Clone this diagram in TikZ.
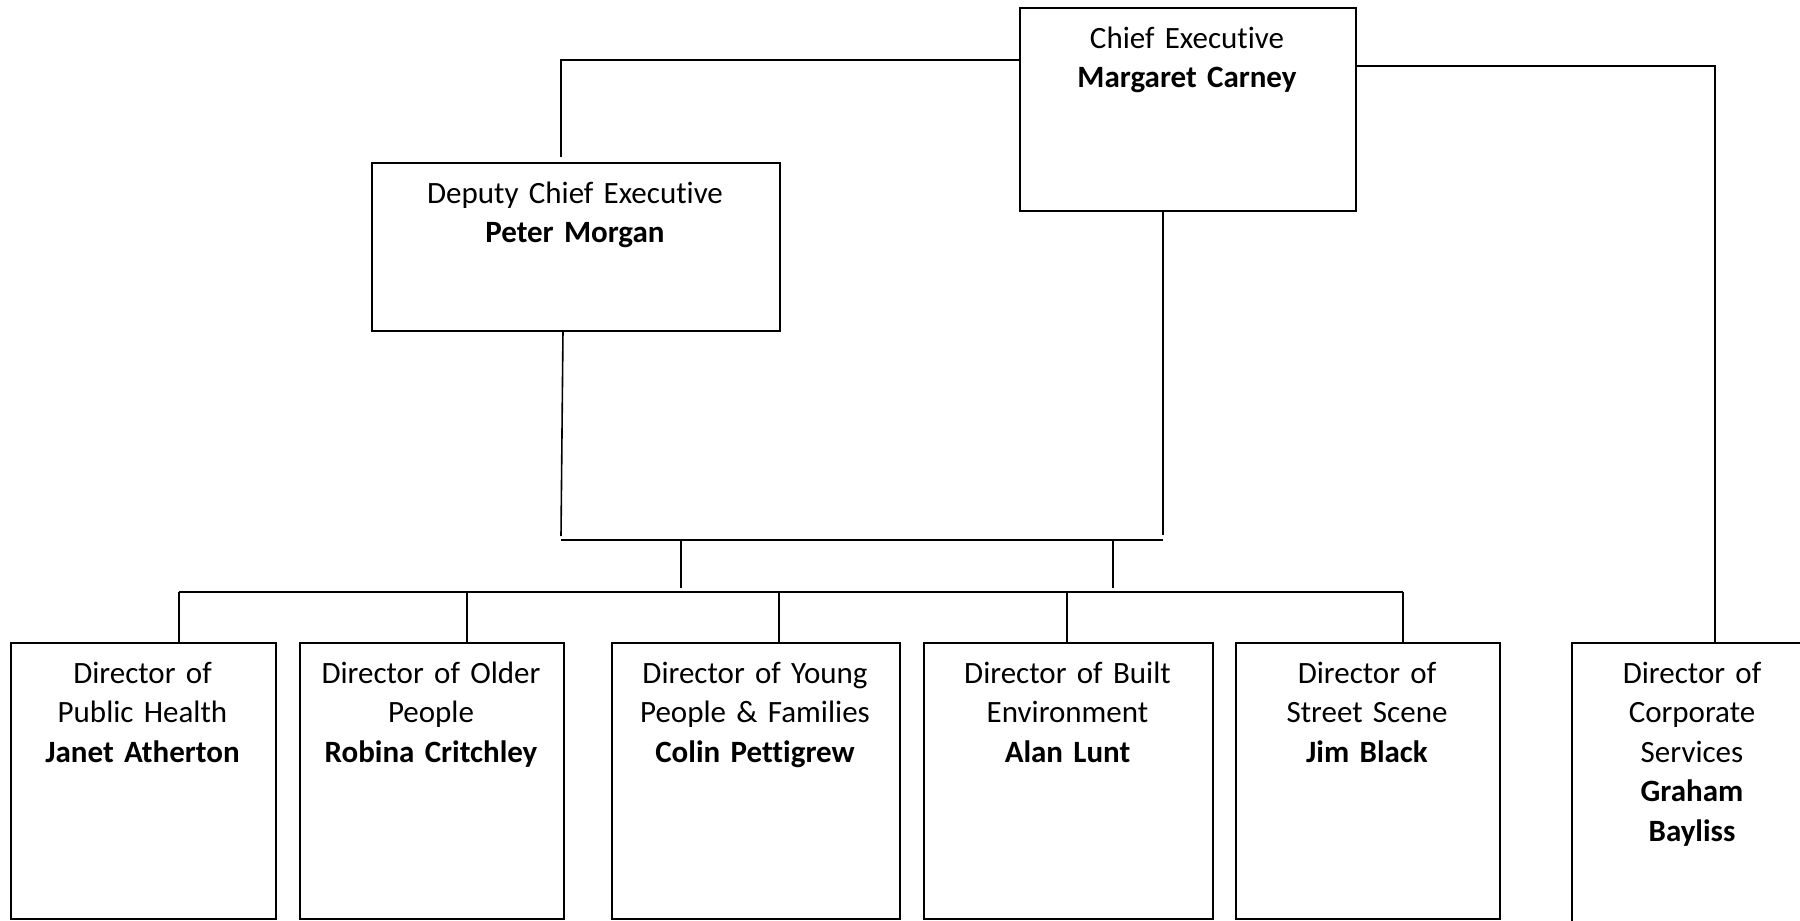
\documentclass[tikz,border=0pt]{standalone}
\usepackage{fontspec}
\setmainfont{Carlito}[Ligatures=NoCommon]
\begin{document}
\begin{tikzpicture}[x=0.5pt,y=-0.5pt,
  box/.style={draw, line width=0.8pt, inner sep=0pt, anchor=north west},
  lbl/.style={anchor=base, align=center, text width=150pt, inner sep=0pt,
    font={\fontsize{15.5}{19.75}\selectfont}},
  conn/.style={line width=0.8pt}]
\useasboundingbox (0,0) rectangle (1800,921);
\clip (0,0) rectangle (1800,921);
% boxes
\node[box, minimum width=168pt, minimum height=101.5pt] (chief) at (1019,7) {};
\node[box, minimum width=204pt, minimum height=84pt] (dep) at (371,162) {};
\node[box, minimum width=132.5pt, minimum height=138pt] (b1) at (10,642) {};
\node[box, minimum width=132pt, minimum height=138pt] (b2) at (299,642) {};
\node[box, minimum width=144pt, minimum height=138pt] (b3) at (611,642) {};
\node[box, minimum width=144.5pt, minimum height=138pt] (b4) at (923,642) {};
\node[box, minimum width=132pt, minimum height=138pt] (b5) at (1235,642) {};
\node[box, minimum width=121pt, minimum height=170pt] (b6) at (1571,642) {};
% labels
\node[lbl] (tchief) at (1187,48) {Chief Executive\\\textbf{Margaret Carney}};
\node[lbl] (tdep) at (575,203) {Deputy Chief Executive\\\textbf{Peter Morgan}};
\node[lbl] (t1) at (142.5,683) {Director of\\Public Health\\\textbf{Janet Atherton}};
\node[lbl] (t2) at (431,683) {Director of Older\\People\\\textbf{Robina Critchley}};
\node[lbl] (t3) at (755,683) {Director of Young\\People \& Families\\\textbf{Colin Pettigrew}};
\node[lbl] (t4) at (1067.5,683) {Director of Built\\Environment\\\textbf{Alan Lunt}};
\node[lbl] (t5) at (1367,683) {Director of\\Street Scene\\\textbf{Jim Black}};
\node[lbl] (t6) at (1692,683) {Director of\\Corporate\\Services\\\textbf{Graham}\\\textbf{Bayliss}};
% coordinates
\coordinate (dtop) at (561,157);
\coordinate (dl) at (561,60);
\coordinate (cr) at (1715,66);
\coordinate (dbot) at (563,330);
\coordinate (j1) at (561,536);
\coordinate (jl) at (561,540);
\coordinate (jr) at (1163,540);
\coordinate (cb) at (1163,535);
\coordinate (d1) at (681,540);
\coordinate (d1e) at (681,588);
\coordinate (d2) at (1113,540);
\coordinate (d2e) at (1113,588);
\coordinate (bl) at (179,592);
\coordinate (br) at (1403,592);
% connectors
\draw[conn] (dtop) -- (dl) -- (dl -| chief.west);
\draw[conn] (chief.north east |- cr) -- (cr) -- (cr |- b6.north);
\draw[conn] (dbot) -- (j1);
\draw[conn] (chief.south -| cb) -- (cb);
\draw[conn] (jl) -- (jr);
\draw[conn] (d1) -- (d1e);
\draw[conn] (d2) -- (d2e);
\draw[conn] (bl) -- (br);
\draw[conn] (bl) -- (bl |- b1.north);
\draw[conn] (bl -| 467,0) -- (b2.north -| 467,0);
\draw[conn] (bl -| 779,0) -- (b3.north -| 779,0);
\draw[conn] (bl -| 1067,0) -- (b4.north -| 1067,0);
\draw[conn] (br) -- (br |- b5.north);
\end{tikzpicture}
\end{document}
